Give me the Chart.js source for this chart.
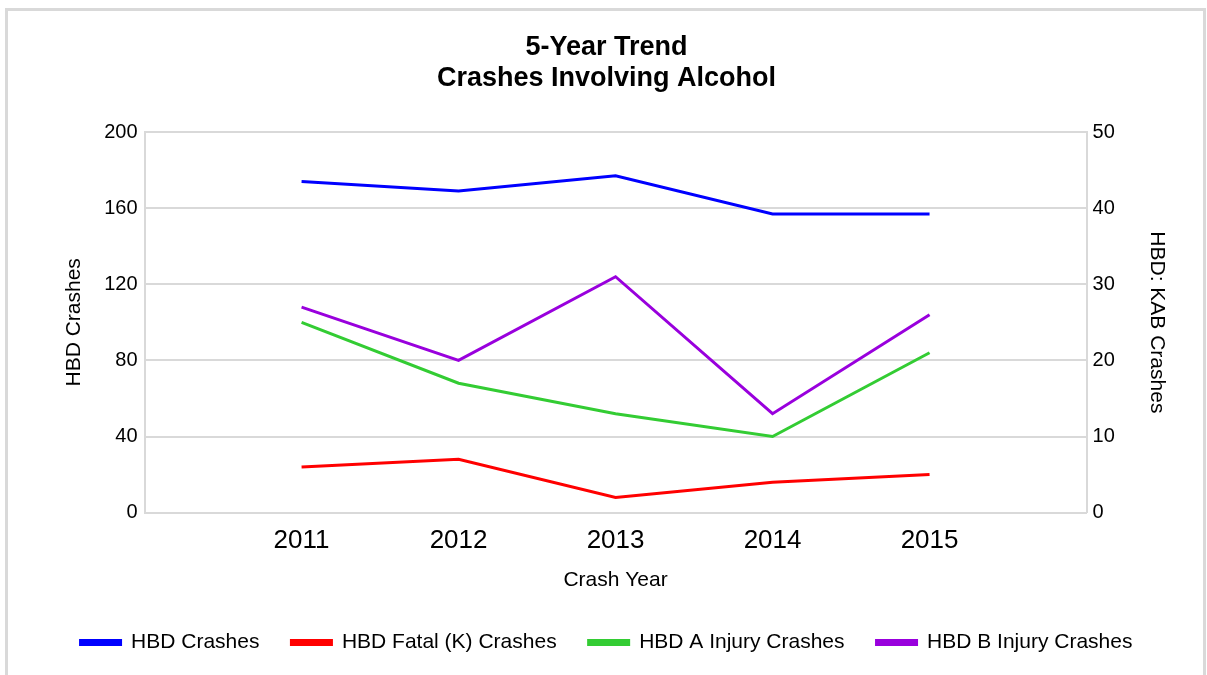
<!DOCTYPE html>
<html>
<head>
<meta charset="utf-8">
<title>5-Year Trend - Crashes Involving Alcohol</title>
<script src="https://cdn.jsdelivr.net/npm/chart.js@4/dist/chart.umd.min.js"></script>
<style>
  html, body { margin: 0; padding: 0; background: #fff; overflow: hidden; }
  #frame {
    position: absolute; left: 5px; top: 8px; width: 1195px; height: 700px;
    border: 3px solid #d9d9d9; border-bottom: none; pointer-events: none;
  }
  #chart { position: absolute; left: 0; top: 0; }
</style>
</head>
<body>
<canvas id="chart" width="1207" height="675"></canvas>
<div id="frame"></div>
<script>
/* -------------------------
   DATA
------------------------- */
const years = [2011, 2012, 2013, 2014, 2015];
const hbdCrashes = [174, 169, 177, 157, 157];   // left axis
const fatalK = [6, 7, 2, 4, 5];                 // right axis
const injuryA = [25, 17, 13, 10, 21];           // right axis
const injuryB = [27, 20, 31, 13, 26];           // right axis

const seriesNames = ["HBD Crashes", "HBD Fatal (K) Crashes", "HBD A Injury Crashes", "HBD B Injury Crashes"];
const seriesColors = ["#0000ff", "#ff0000", "#33cc33", "#9900dd"];

const FONT = "'Liberation Sans', Arial, sans-serif";
const GRID = "#d9d9d9";

function pts(vals) {
  return vals.map((v, i) => ({ x: years[i], y: v }));
}

function makeSet(idx, vals, axis) {
  return {
    label: seriesNames[idx],
    data: pts(vals),
    yAxisID: axis,
    borderColor: seriesColors[idx],
    backgroundColor: seriesColors[idx],
    borderWidth: 3,
    pointRadius: 0,
    tension: 0
  };
}

/* -------------------------
   CHART
------------------------- */
new Chart(document.getElementById("chart").getContext("2d"), {
  type: "line",
  data: {
    datasets: [
      makeSet(0, hbdCrashes, "y"),
      makeSet(1, fatalK, "y1"),
      makeSet(2, injuryA, "y1"),
      makeSet(3, injuryB, "y1")
    ]
  },
  options: {
    responsive: false,
    animation: false,
    layout: { padding: { left: 6, right: 0, top: 0, bottom: 12 } },
    plugins: {
      title: {
        display: true,
        text: ["5-Year Trend", "Crashes Involving Alcohol"],
        color: "#000",
        font: { family: FONT, size: 27, weight: "bold", lineHeight: 1.15 },
        padding: { top: 32, bottom: 38 }
      },
      legend: {
        position: "bottom",
        labels: {
          color: "#000",
          font: { family: FONT, size: 21 },
          boxWidth: 40,
          boxHeight: 4,
          padding: 32
        }
      },
      tooltip: { enabled: false }
    },
    scales: {
      x: {
        type: "linear",
        min: 2010,
        max: 2016,
        ticks: {
          stepSize: 1,
          color: "#000",
          font: { family: FONT, size: 26 },
          padding: 13,
          autoSkip: false,
          maxRotation: 0,
          callback: v => years.includes(v) ? String(v) : ""
        },
        grid: { display: false, drawTicks: false },
        border: { display: true, color: GRID, width: 2 },
        title: {
          display: true,
          text: "Crash Year",
          color: "#000",
          font: { family: FONT, size: 21 },
          padding: { top: -2, bottom: 7 }
        }
      },
      y: {
        position: "left",
        min: 0,
        max: 200,
        ticks: {
          stepSize: 40,
          color: "#000",
          font: { family: FONT, size: 20 },
          padding: 7
        },
        grid: { color: GRID, lineWidth: 2, drawTicks: false },
        border: { display: true, color: GRID, width: 2 },
        title: {
          display: true,
          text: "HBD Crashes",
          color: "#000",
          font: { family: FONT, size: 21 },
          padding: { top: 56, bottom: 10 }
        }
      },
      y1: {
        position: "right",
        min: 0,
        max: 50,
        ticks: {
          stepSize: 10,
          color: "#000",
          font: { family: FONT, size: 20 },
          padding: 6
        },
        grid: { display: false, drawTicks: false },
        border: { display: true, color: GRID, width: 2 },
        title: {
          display: true,
          text: "HBD: KAB Crashes",
          color: "#000",
          font: { family: FONT, size: 21 },
          padding: { top: 38, bottom: 23 }
        }
      }
    }
  }
});
</script>
</body>
</html>
